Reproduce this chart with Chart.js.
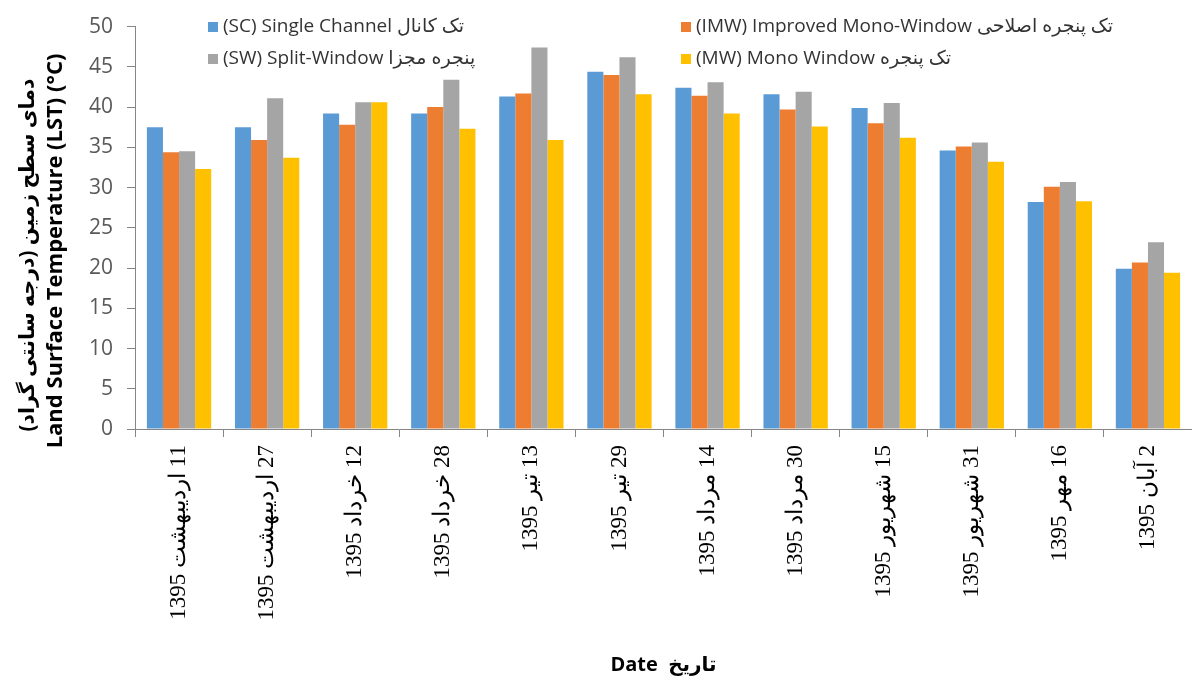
<!DOCTYPE html>
<html>
<head>
<meta charset="utf-8">
<script src="https://cdn.jsdelivr.net/npm/chart.js@4.4.1/dist/chart.umd.min.js"></script>
<style>
  html, body { margin: 0; padding: 0; background: #ffffff; }
  #wrap { width: 1192px; height: 684px; position: relative; }
</style>
</head>
<body>
<div id="wrap"><canvas id="c"></canvas></div>
<script>
// ---- data ----
const days = ["11", "27", "12", "28", "13", "29", "14", "30", "15", "31", "16", "2"];
const months = ["اردیبهشت", "اردیبهشت", "خرداد", "خرداد", "تیر", "تیر", "مرداد", "مرداد", "شهریور", "شهریور", "مهر", "آبان"];
const year = "1395";
const seriesNames = [
  "(SC) Single Channel تک کانال",
  "(IMW) Improved Mono-Window تک پنجره اصلاحی",
  "(SW) Split-Window پنجره مجزا",
  "(MW) Mono Window تک پنجره"
];
const scValues  = [37.5, 37.5, 39.2, 39.2, 41.3, 44.4, 42.4, 41.6, 39.9, 34.6, 28.2, 19.9];
const imwValues = [34.4, 35.9, 37.8, 40.0, 41.7, 44.0, 41.4, 39.7, 38.0, 35.1, 30.1, 20.7];
const swValues  = [34.5, 41.1, 40.6, 43.4, 47.4, 46.2, 43.1, 41.9, 40.5, 35.6, 30.7, 23.2];
const mwValues  = [32.3, 33.7, 40.6, 37.3, 35.9, 41.6, 39.2, 37.6, 36.2, 33.2, 28.3, 19.4];
const yTitleFa = "دمای سطح زمین (درجه سانتی گراد)";
const yTitleEn = "Land Surface Temperature (LST) (°C)";
const xTitle = "Date  تاریخ";

// ---- build ----
const labels = days.map((d, i) => year + " " + months[i] + "\u200E " + d);
const colors = ["#5B9BD5", "#ED7D31", "#A5A5A5", "#FFC000"];
const valueSets = [scValues, imwValues, swValues, mwValues];

const legendPlugin = {
  id: "gridLegend",
  afterDraw(chart) {
    const ctx = chart.ctx;
    const cols = [208, 681];
    const rows = [27, 59];
    ctx.save();
    ctx.font = "19px 'Open Sans', 'DejaVu Sans', sans-serif";
    ctx.textBaseline = "middle";
    ctx.textAlign = "left";
    chart.data.datasets.forEach((ds, i) => {
      const x = cols[i % 2];
      const y = rows[Math.floor(i / 2)];
      ctx.fillStyle = ds.backgroundColor;
      ctx.fillRect(x, y - 5, 10, 10);
      ctx.fillStyle = "#333333";
      ctx.fillText(ds.label, x + 15, y);
    });
    ctx.restore();
  }
};

const yTitlePlugin = {
  id: "yTitle",
  afterDraw(chart) {
    const ctx = chart.ctx;
    ctx.save();
    ctx.fillStyle = "#000000";
    ctx.textAlign = "center";
    ctx.textBaseline = "middle";
    ctx.save();
    ctx.translate(28, 255);
    ctx.rotate(-Math.PI / 2);
    ctx.font = "bold 20.5px 'Open Sans', 'DejaVu Sans', sans-serif";
    ctx.fillText(yTitleFa, 0, 0);
    ctx.restore();
    ctx.save();
    ctx.translate(56, 251);
    ctx.rotate(-Math.PI / 2);
    ctx.font = "bold 22px 'Open Sans', 'DejaVu Sans', sans-serif";
    ctx.fillText(yTitleEn, 0, 0);
    ctx.restore();
    ctx.restore();
  }
};

new Chart(document.getElementById("c"), {
  type: "bar",
  data: {
    labels: labels,
    datasets: valueSets.map((v, i) => ({
      label: seriesNames[i],
      data: v,
      backgroundColor: colors[i],
      borderWidth: 0,
      barPercentage: 1.0,
      categoryPercentage: 0.73
    }))
  },
  options: {
    responsive: true,
    maintainAspectRatio: false,
    animation: false,
    layout: { padding: { top: 21, right: 0, left: 0, bottom: 0 } },
    plugins: {
      legend: { display: false },
      tooltip: { enabled: false }
    },
    scales: {
      x: {
        grid: { display: true, drawOnChartArea: false, drawTicks: true, tickLength: 8, offset: true, color: "#868686" },
        border: { color: "#868686", width: 1 },
        ticks: {
          maxRotation: 90, minRotation: 90, autoSkip: false, padding: 8,
          color: "#000000",
          font: { family: "'Liberation Serif', 'Times New Roman', serif", size: 23 }
        },
        title: {
          display: true, text: xTitle, color: "#000000",
          font: { family: "'Open Sans', 'DejaVu Sans', sans-serif", size: 20, weight: "bold" },
          padding: { top: 0, bottom: 7 }
        },
        afterFit(scale) { scale.height = 255; }
      },
      y: {
        min: 0, max: 50,
        grid: { display: true, drawOnChartArea: false, drawTicks: true, tickLength: 8, color: "#868686" },
        border: { color: "#868686", width: 1 },
        ticks: {
          stepSize: 5, padding: 14, color: "#595959",
          font: { family: "'Open Sans', sans-serif", size: 21 }
        },
        title: { display: false },
        afterFit(scale) { scale.width = 135; }
      }
    }
  },
  plugins: [legendPlugin, yTitlePlugin]
});
</script>
</body>
</html>
